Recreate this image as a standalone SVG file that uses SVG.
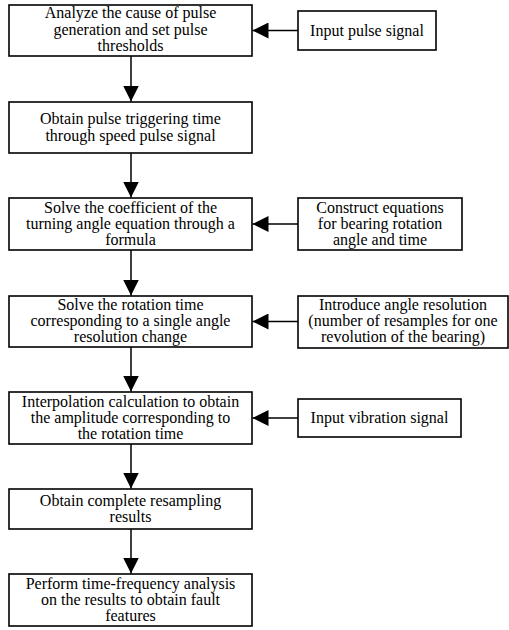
<svg xmlns="http://www.w3.org/2000/svg" width="509" height="630" viewBox="0 0 509 630">
<style>
.box{fill:#fff;stroke:#000;stroke-width:1.6}
.t{font-family:'Liberation Serif','Times New Roman',Times,serif;font-size:16px;fill:#000;text-anchor:middle}
.c{stroke:#000;stroke-width:1.5;fill:none;marker-end:url(#ah)}
</style>
<defs>
<marker id="ah" markerUnits="userSpaceOnUse" markerWidth="16" markerHeight="16" viewBox="0 0 16 16" refX="16" refY="8" orient="auto">
<path d="M0,0 L16,8 L0,16 Z" fill="#000"/>
</marker>
</defs>
<rect width="509" height="630" fill="#fff"/>
<g id="connectors">
<line class="c" x1="298" y1="30.5" x2="252.5" y2="30.5"/>
<line class="c" x1="131" y1="56" x2="131" y2="101.5"/>
<line class="c" x1="131" y1="153" x2="131" y2="197.5"/>
<line class="c" x1="298" y1="224" x2="252.5" y2="224"/>
<line class="c" x1="131" y1="250" x2="131" y2="295.5"/>
<line class="c" x1="298" y1="321.5" x2="252.5" y2="321.5"/>
<line class="c" x1="131" y1="347" x2="131" y2="391.5"/>
<line class="c" x1="298" y1="418" x2="252.5" y2="418"/>
<line class="c" x1="131" y1="444" x2="131" y2="488.5"/>
<line class="c" x1="131" y1="529" x2="131" y2="573.5"/>
</g>
<g id="n1">
<rect class="box" x="9" y="5" width="243" height="51"/>
<text class="t" x="130.5" y="18">Analyze the cause of pulse</text>
<text class="t" x="130.5" y="34.5">generation and set pulse</text>
<text class="t" x="130.5" y="51">thresholds</text>
</g>
<g id="in1">
<rect class="box" x="298" y="11" width="138" height="39"/>
<text class="t" x="367" y="35.5">Input pulse signal</text>
</g>
<g id="n2">
<rect class="box" x="9" y="102" width="243" height="51"/>
<text class="t" x="130.5" y="124">Obtain pulse triggering time</text>
<text class="t" x="130.5" y="140.5">through speed pulse signal</text>
</g>
<g id="n3">
<rect class="box" x="9" y="198" width="243" height="52"/>
<text class="t" x="130.5" y="213">Solve the coefficient of the</text>
<text class="t" x="130.5" y="229">turning angle equation through a</text>
<text class="t" x="130.5" y="245">formula</text>
</g>
<g id="in2">
<rect class="box" x="298" y="198" width="164" height="52"/>
<text class="t" x="380" y="213">Construct equations</text>
<text class="t" x="380" y="229">for bearing rotation</text>
<text class="t" x="380" y="245">angle and time</text>
</g>
<g id="n4">
<rect class="box" x="9" y="296" width="243" height="51"/>
<text class="t" x="130.5" y="310">Solve the rotation time</text>
<text class="t" x="130.5" y="326">corresponding to a single angle</text>
<text class="t" x="130.5" y="342">resolution change</text>
</g>
<g id="in3">
<rect class="box" x="298" y="296" width="210" height="52"/>
<text class="t" x="403" y="310">Introduce angle resolution</text>
<text class="t" x="403" y="326">(number of resamples for one</text>
<text class="t" x="403" y="342">revolution of the bearing)</text>
</g>
<g id="n5">
<rect class="box" x="9" y="392" width="243" height="52"/>
<text class="t" x="130.5" y="407">Interpolation calculation to obtain</text>
<text class="t" x="130.5" y="423">the amplitude corresponding to</text>
<text class="t" x="130.5" y="439">the rotation time</text>
</g>
<g id="in4">
<rect class="box" x="298" y="399" width="163" height="38"/>
<text class="t" x="379.5" y="423">Input vibration signal</text>
</g>
<g id="n6">
<rect class="box" x="9" y="489" width="243" height="40"/>
<text class="t" x="130.5" y="506">Obtain complete resampling</text>
<text class="t" x="130.5" y="522">results</text>
</g>
<g id="n7">
<rect class="box" x="9" y="574" width="243" height="52"/>
<text class="t" x="130.5" y="589">Perform time-frequency analysis</text>
<text class="t" x="130.5" y="605">on the results to obtain fault</text>
<text class="t" x="130.5" y="621">features</text>
</g>
</svg>
